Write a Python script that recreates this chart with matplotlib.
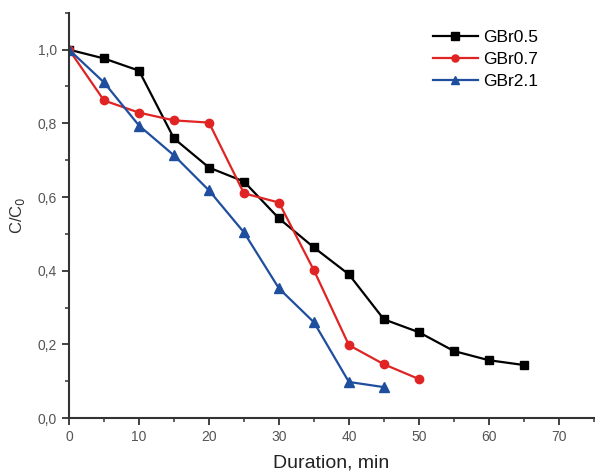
import matplotlib
matplotlib.use("Agg")
import matplotlib.pyplot as plt
from matplotlib.ticker import MultipleLocator, FuncFormatter

plt.rcParams['font.family'] = ['Liberation Sans', 'DejaVu Sans']

x_05 = [0, 5, 10, 15, 20, 25, 30, 35, 40, 45, 50, 55, 60, 65]
y_05 = [1.0, 0.976, 0.943, 0.759, 0.680, 0.642, 0.542, 0.463, 0.390, 0.268, 0.233, 0.182, 0.157, 0.144]
x_07 = [0, 5, 10, 15, 20, 25, 30, 35, 40, 45, 50]
y_07 = [1.0, 0.862, 0.829, 0.808, 0.802, 0.610, 0.585, 0.401, 0.198, 0.146, 0.106]
x_21 = [0, 5, 10, 15, 20, 25, 30, 35, 40, 45]
y_21 = [1.0, 0.911, 0.794, 0.713, 0.618, 0.504, 0.352, 0.260, 0.098, 0.084]
labels = ["GBr0.5", "GBr0.7", "GBr2.1"]

fig = plt.figure(figsize=(5.95, 4.74), dpi=100)
ax = fig.add_axes([0.116, 0.118, 0.882, 0.855])

ax.plot(x_05, y_05, color='black', marker='s', markersize=6, lw=1.6, label=labels[0])
ax.plot(x_07, y_07, color='#e02424', marker='o', markersize=6, lw=1.6, label=labels[1])
ax.plot(x_21, y_21, color='#1f4e9e', marker='^', markersize=6.5, lw=1.6, label=labels[2])

ax.set_xlim(0, 75)
ax.set_ylim(0, 1.1)
ax.xaxis.set_major_locator(MultipleLocator(10))
ax.xaxis.set_minor_locator(MultipleLocator(5))
ax.yaxis.set_major_locator(MultipleLocator(0.2))
ax.yaxis.set_minor_locator(MultipleLocator(0.1))
ax.yaxis.set_major_formatter(FuncFormatter(lambda v, p: f"{v:.1f}".replace('.', ',')))

for s in ['top', 'right']:
    ax.spines[s].set_visible(False)
for s in ['left', 'bottom']:
    ax.spines[s].set_linewidth(1.5)
    ax.spines[s].set_color('#333333')

ax.tick_params(which='major', direction='out', length=5, width=1.3, colors='#333333', labelcolor='#555555', labelsize=10)
ax.tick_params(which='minor', direction='out', length=3, width=1.1, colors='#333333')

ax.set_xlabel("Duration, min", fontsize=14, color='#222222', labelpad=8)
ax.set_ylabel("C/C$_0$", fontsize=12, color='#333333', labelpad=8)

leg = ax.legend(loc='upper left', bbox_to_anchor=(0.68, 0.975), frameon=False, fontsize=12.5,
                handlelength=2.6, handletextpad=0.3, labelspacing=0.4, markerscale=0.85,
                borderaxespad=0)

fig.savefig("out.png", dpi=100)
